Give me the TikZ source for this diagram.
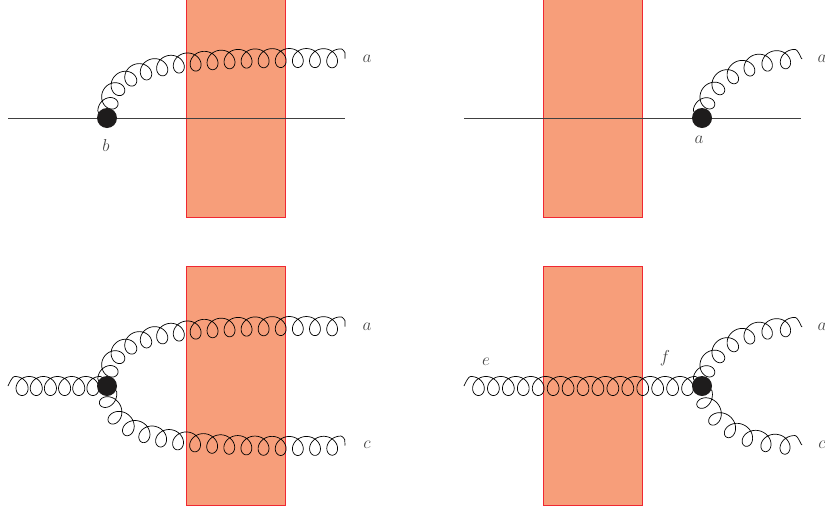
\documentclass[tikz,border=0pt]{standalone}
\usepackage{amsmath, amssymb}
\usepackage{tikz}
\usetikzlibrary{decorations, positioning}
\usepackage{xcolor}
\definecolor{shockfill}{RGB}{247, 158, 122}
\definecolor{shockline}{RGB}{240, 40, 50}
\definecolor{vertexblack}{RGB}{30, 28, 28}
\definecolor{labelgray}{RGB}{70, 70, 70}
\def\gluonend{7}
\def\gluonr{9.3}
% upright curls, period fitted to the length of the path
\pgfdeclaredecoration{gluonline}{curl}{
  \state{curl}[width=0.25pt, persistent precomputation={
      \pgfmathsetmacro\gluonlen{\pgfdecoratedpathlength}
      \pgfmathsetmacro\gluonn{max(1,round((\gluonlen-2*\gluonend)/\pgfdecorationsegmentlength))}
      \pgfmathsetmacro\gluonp{(\gluonlen-2*\gluonend)/\gluonn}
      \pgfmathsetmacro\gluonA{\pgfdecorationsegmentamplitude}}]{
    \pgfmathsetmacro\gluons{\pgfdecoratedcompleteddistance}
    \pgfmathsetmacro\gluont{(\gluons-\gluonend)/\gluonp*360}
    \pgfmathsetmacro\gluonx{(\gluons<\gluonend || \gluons>\gluonlen-\gluonend) ? 0 : \gluonr*sin(\gluont)}
    \pgfmathsetmacro\gluony{\gluons<\gluonend ? \gluonA*sin(\gluons/\gluonend*90) : (\gluons>\gluonlen-\gluonend ? \gluonA*sin((\gluonlen-\gluons)/\gluonend*90) : \gluonA*cos(\gluont))}
    \pgfpathlineto{\pgfpoint{\gluonx pt}{\gluony pt}}
  }
  \state{final}{\pgfpathlineto{\pgfpointdecoratedpathlast}}
}
\tikzset{
  shock/.style={draw=shockline, fill=shockfill, line width=1pt},
  quark/.style={black!75, line width=0.9pt},
  gluon/.style={black, line width=0.7pt, line join=round, decorate, decoration={gluonline, segment length=#1, amplitude=9.5pt}},
  gluon/.default=16.7pt,
  vertex/.style={circle, fill=vertexblack, inner sep=0pt, minimum size=20pt},
  lab/.style={text=labelgray, font=\fontsize{16}{18}\selectfont, inner sep=0pt}
}
\begin{document}
\begin{tikzpicture}[x=1pt, y=-1pt]
  \useasboundingbox (0,0) rectangle (825,512);
  % shockwaves
  \path[shock] (186,-2) rectangle (285,217);
  \path[shock] (543,-2) rectangle (642,217);
  \path[shock] (186,266) rectangle (285,505);
  \path[shock] (543,266) rectangle (642,505);
  % upper left
  \coordinate (ql) at (8,118);
  \coordinate (qr) at (345,118);
  \coordinate (vbc) at (107,118);
  \coordinate (ga) at (345,58.5);
  \draw[quark] (ql) -- (qr);
  \draw[gluon] (vbc) .. controls (107,70) and (145,55) .. (ga);
  \node[vertex] (vb) at (vbc) {};
  \node[lab] (la) at (367,59) {$a$};
  \node[lab] (lb) at (106,145) {$b$};
  % upper right
  \coordinate (qlb) at (464,118);
  \coordinate (qrb) at (801,118);
  \coordinate (vac) at (702,118);
  \coordinate (gab) at (802,59);
  \draw[quark] (qlb) -- (qrb);
  \draw[gluon=19pt] (vac) .. controls (702,92) and (735,57) .. (gab);
  \node[vertex] (va) at (vac) {};
  \node[lab] (lab) at (822,59) {$a$};
  \node[lab] (laa) at (699,140) {$a$};
  % lower left
  \coordinate (gi) at (8,386);
  \coordinate (vcc) at (107,386);
  \coordinate (gu) at (345,326.5);
  \coordinate (gd) at (345,445.5);
  \draw[gluon=14.8pt] (gi) -- (vcc);
  \draw[gluon] (vcc) .. controls (107,338) and (145,323) .. (gu);
  \draw[gluon] (vcc) .. controls (107,434) and (145,449) .. (gd);
  \node[vertex] (vc) at (vcc) {};
  \node[lab] (lc) at (367,327) {$a$};
  \node[lab] (ld) at (367,445) {$c$};
  % lower right
  \coordinate (gj) at (464,386);
  \coordinate (vdc) at (702,386);
  \coordinate (guu) at (802,327);
  \coordinate (gdd) at (802,445);
  \draw[gluon=14.8pt] (gj) -- (vdc);
  \draw[gluon=19pt] (vdc) .. controls (702,360) and (735,325) .. (guu);
  \draw[gluon=19pt] (vdc) .. controls (702,412) and (735,447) .. (gdd);
  \node[vertex] (vd) at (vdc) {};
  \node[lab] (le) at (486,362) {$e$};
  \node[lab] (lf) at (665,358) {$f$};
  \node[lab] (lg) at (822,327) {$a$};
  \node[lab] (lh) at (822,445) {$c$};
\end{tikzpicture}
\end{document}
